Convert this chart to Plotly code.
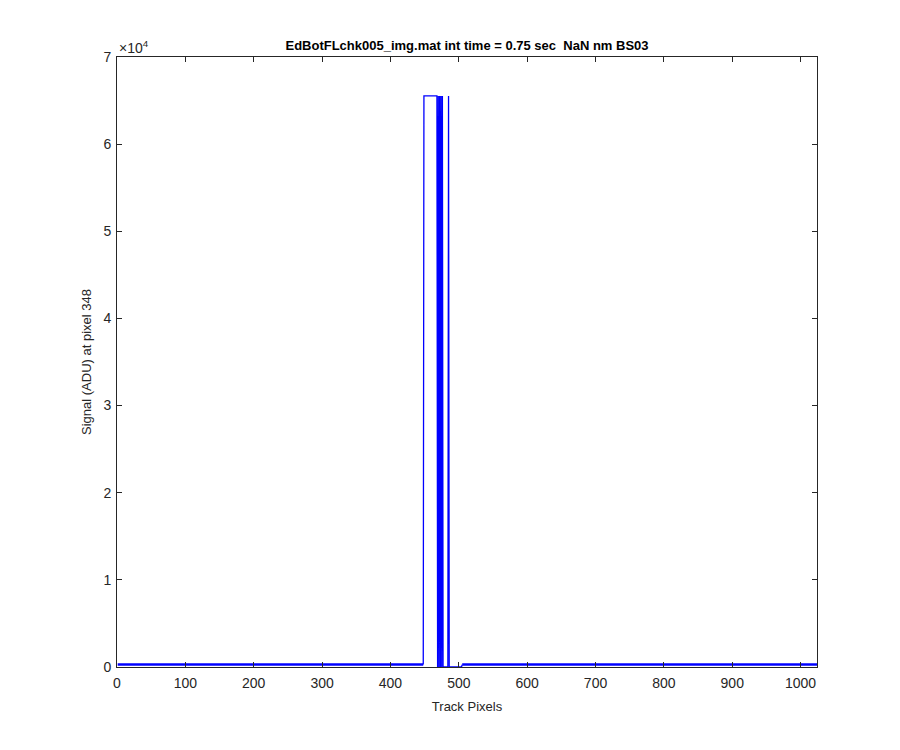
import plotly.graph_objects as go

# Baseline segments (track pixel, signal ADU)
base_left_x = [1, 448]
base_left_y = [280, 280]
base_right_x = [505, 1024]
base_right_y = [280, 280]

# Saturated spike region
spike_x = [448, 449, 468, 469, 470, 471, 472, 473, 474, 475, 476, 477, 484, 485, 486, 504, 505]
spike_y = [280, 65535, 65535, 0, 65535, 0, 65535, 0, 65535, 0, 65535, 0, 0, 65535, 0, 0, 280]

x_ticks = [0, 100, 200, 300, 400, 500, 600, 700, 800, 900, 1000]
y_ticks = [0, 10000, 20000, 30000, 40000, 50000, 60000, 70000]
y_tick_text = ["0", "1", "2", "3", "4", "5", "6", "7"]

title_text = "EdBotFLchk005_img.mat int time = 0.75 sec  NaN nm BS03"

font_family = "Liberation Sans, Arial, sans-serif"
ax_col = "#262626"

fig = go.Figure()
fig.add_trace(go.Scatter(x=base_left_x, y=base_left_y, mode="lines",
                         line=dict(color="#0000ff", width=2.6), showlegend=False))
fig.add_trace(go.Scatter(x=base_right_x, y=base_right_y, mode="lines",
                         line=dict(color="#0000ff", width=2.6), showlegend=False))
fig.add_trace(go.Scatter(x=spike_x, y=spike_y, mode="lines",
                         line=dict(color="#0000ff", width=1.3), showlegend=False))

fig.update_layout(
    width=900, height=750,
    margin=dict(l=109, r=91, t=49, b=91),
    paper_bgcolor="white", plot_bgcolor="white",
    font=dict(family=font_family, size=13, color=ax_col),
    title=dict(text="<b>" + title_text + "</b>", x=0.5, xanchor="center",
               xref="paper", y=1, yref="paper", yanchor="bottom", pad=dict(b=7),
               font=dict(size=13, color="black")),
    xaxis=dict(range=[0, 1024], tickvals=x_ticks, ticks="inside", ticklen=5,
               showline=True, linecolor=ax_col, linewidth=1, mirror="ticks",
               showgrid=False, zeroline=False, tickcolor=ax_col,
               tickfont=dict(size=14), ticklabelstandoff=3,
               title=dict(text="Track Pixels", standoff=12, font=dict(size=13))),
    yaxis=dict(range=[0, 70000], tickvals=y_ticks, ticktext=y_tick_text,
               ticks="inside", ticklen=5,
               showline=True, linecolor=ax_col, linewidth=1, mirror="ticks",
               showgrid=False, zeroline=False, tickcolor=ax_col,
               tickfont=dict(size=14), ticklabelstandoff=2,
               title=dict(text="Signal (ADU) at pixel 348", standoff=8, font=dict(size=13))),
    annotations=[dict(text="×10<sup>4</sup>", x=0, y=1, xref="paper", yref="paper",
                      xanchor="left", yanchor="bottom", showarrow=False,
                      font=dict(size=14, color=ax_col), yshift=-1)],
)

fig.write_html("out.html")
